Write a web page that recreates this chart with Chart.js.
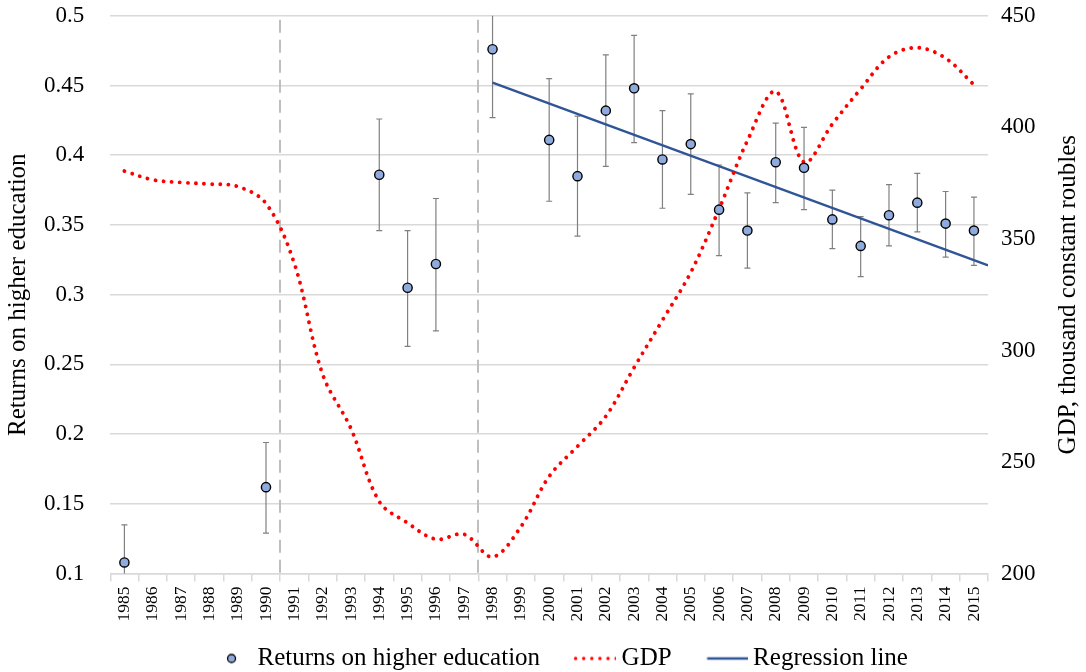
<!DOCTYPE html>
<html><head><meta charset="utf-8">
<script src="https://cdn.jsdelivr.net/npm/chart.js@4.4.0/dist/chart.umd.min.js"></script>
<style>html,body{margin:0;padding:0;background:#fff}</style>
</head><body>
<canvas id="c" width="1086" height="672"></canvas>
<script>
// ---------- data ----------
const years = [1985,1986,1987,1988,1989,1990,1991,1992,1993,1994,1995,1996,1997,1998,1999,2000,
               2001,2002,2003,2004,2005,2006,2007,2008,2009,2010,2011,2012,2013,2014,2015];
const eduYears   = [1985,1990,1994,1995,1996,1998,2000,2001,2002,2003,2004,2005,2006,2007,2008,2009,2010,2011,2012,2013,2014,2015];
const eduReturns = [0.108,0.162,0.386,0.305,0.322,0.476,0.411,0.385,0.432,0.448,0.397,0.408,0.361,0.346,0.395,0.391,0.354,0.335,0.357,0.366,0.351,0.346];
const eduLow     = [0.081,0.129,0.346,0.263,0.274,0.427,0.367,0.342,0.392,0.409,0.362,0.372,0.328,0.319,0.366,0.361,0.333,0.313,0.335,0.345,0.327,0.321];
const eduHigh    = [0.135,0.194,0.426,0.346,0.369,0.525,0.455,0.428,0.472,0.486,0.432,0.444,0.393,0.373,0.423,0.420,0.375,0.356,0.379,0.387,0.374,0.370];
const gdpValues  = [380.4,376.5,375.3,374.6,373.5,365.9,339.0,289.3,265.0,232.3,222.7,215.4,217.6,207.5,221.0,243.6,
                    257.0,270.5,292.4,313.6,335.0,363.4,394.0,416.1,384.4,401.5,417.2,431.6,435.7,431.0,419.1];
const regYears   = [1998, 2015.5];
const regValues  = [0.452, 0.321];
const breakYears = [1990.5, 1997.5];
const leftTicks  = {min:0.1, max:0.5, step:0.05};
const rightTicks = {min:200, max:450, step:50};

// ---------- styling ----------
const FONT = 'Liberation Serif';
Chart.defaults.font.family = FONT;
Chart.defaults.color = '#000';
const GRID = '#d9d9d9';
const CLEAR = 'rgba(0,0,0,0)';

const dsEdu = {
  label:'Returns on higher education',
  data: eduYears.map((x,i)=>({x, y:eduReturns[i]})),
  xAxisID:'xl', yAxisID:'y', showLine:false,
  pointRadius:4.6, pointHoverRadius:4.6,
  pointBackgroundColor:'#8faadc', pointBorderColor:'#000', pointBorderWidth:1.4,
  backgroundColor:'#8faadc', borderColor:'#000'
};
const dsGdp = {
  label:'GDP',
  data: years.map((x,i)=>({x, y:gdpValues[i]})),
  xAxisID:'xl', yAxisID:'y2',
  borderColor:'#ff0000', borderWidth:3.9, borderDash:[0.01,8.1], borderCapStyle:'round',
  pointRadius:0, tension:0.35, fill:false
};
const dsReg = {
  label:'Regression line',
  data: regYears.map((x,i)=>({x, y:regValues[i]})),
  xAxisID:'xl', yAxisID:'y',
  borderColor:'#2f5597', borderWidth:2.4, pointRadius:0, fill:false
};

// legend icons built from the dataset styles
const BOX = 67, FS = 25;
function legendIcon(ds, kind){
  const w = BOX + 14, h = 24;
  const c = document.createElement('canvas'); c.width = w; c.height = h;
  const g = c.getContext('2d');
  const textStart = 7 + BOX + FS/2; // text x in canvas coords
  if (kind === 'point'){
    g.beginPath(); g.arc(textStart-26, h/2, 4, 0, Math.PI*2);
    g.fillStyle = ds.pointBackgroundColor; g.fill();
    g.lineWidth = 1.3; g.strokeStyle = ds.pointBorderColor; g.stroke();
  } else {
    g.beginPath(); g.moveTo(textStart-46, h/2); g.lineTo(textStart-5, h/2);
    g.strokeStyle = ds.borderColor; g.lineWidth = ds.borderWidth;
    if (ds.borderDash){ g.setLineDash(ds.borderDash); g.lineCap = 'round'; g.lineWidth = 3.4; }
    g.stroke();
  }
  return c;
}
const icons = [legendIcon(dsEdu,'point'), legendIcon(dsGdp,'line'), legendIcon(dsReg,'line')];

const extras = {
  id:'extras',
  beforeDatasetsDraw(chart){
    const {ctx, chartArea:a, scales:{xl, y}} = chart;
    ctx.save();
    ctx.beginPath(); ctx.rect(a.left, a.top, a.right-a.left, a.bottom-a.top); ctx.clip();
    // break lines
    ctx.strokeStyle = '#bfbfbf'; ctx.lineWidth = 2; ctx.setLineDash([13,7]);
    breakYears.forEach(b=>{
      const px = Math.round(xl.getPixelForValue(b));
      ctx.beginPath(); ctx.moveTo(px, a.top+4); ctx.lineTo(px, a.bottom); ctx.stroke();
    });
    ctx.setLineDash([]);
    // error bars
    ctx.strokeStyle = '#808080'; ctx.lineWidth = 1.2;
    eduYears.forEach((yr,i)=>{
      const px = xl.getPixelForValue(yr);
      const lo = y.getPixelForValue(eduLow[i]), hi = y.getPixelForValue(eduHigh[i]);
      ctx.beginPath();
      ctx.moveTo(px, lo); ctx.lineTo(px, hi);
      ctx.moveTo(px-3, lo); ctx.lineTo(px+3, lo);
      ctx.moveTo(px-3, hi); ctx.lineTo(px+3, hi);
      ctx.stroke();
    });
    ctx.restore();
  },
  afterDraw(chart){
    // right axis title, reading bottom to top
    const {ctx, chartArea:a} = chart;
    ctx.save();
    ctx.translate(chart.width - 18, (a.top + a.bottom)/2);
    ctx.rotate(-Math.PI/2);
    ctx.font = `25px "${FONT}"`; ctx.fillStyle = '#000';
    ctx.textAlign = 'center'; ctx.textBaseline = 'middle';
    ctx.fillText('GDP, thousand constant roubles', 0, 0);
    ctx.restore();
  }
};

new Chart(document.getElementById('c'), {
  type:'line',
  data:{ labels: years.map(String), datasets:[dsEdu, dsGdp, dsReg] },
  options:{
    responsive:false, animation:false, devicePixelRatio:1,
    layout:{ padding:{left:0, right:0, top:1, bottom:-9} },
    plugins:{
      tooltip:{enabled:false},
      legend:{
        position:'bottom',
        labels:{
          font:{size:FS}, color:'#000', boxWidth:BOX, boxHeight:24, padding:2,
          usePointStyle:true, pointStyleWidth:BOX,
          generateLabels(chart){
            return chart.data.datasets.map((ds,i)=>({
              text: ds.label, datasetIndex:i, hidden:false,
              fillStyle:CLEAR, strokeStyle:CLEAR, lineWidth:0,
              pointStyle: icons[i]
            }));
          }
        }
      }
    },
    scales:{
      x:{ type:'category', position:'bottom', offset:true,
          grid:{display:true, drawOnChartArea:false, drawTicks:true, tickLength:8, color:GRID, lineWidth:1.5, offset:true},
          border:{display:true, color:GRID, width:1.5},
          ticks:{font:{size:17.5}, color:'#000', minRotation:90, maxRotation:90, autoSkip:false, padding:5},
          title:{display:true, text:' ', font:{size:2}, padding:{top:0, bottom:15}} },
      xl:{ type:'linear', display:false, min:years[0]-0.5, max:years[years.length-1]+0.5 },
      y:{ type:'linear', position:'left', min:leftTicks.min, max:leftTicks.max,
          ticks:{stepSize:leftTicks.step, font:{size:23}, color:'#000', padding:2, callback:v=>+v.toFixed(2)},
          grid:{color:GRID, lineWidth:1.5, drawTicks:true, tickLength:24, tickColor:CLEAR}, border:{display:false},
          title:{display:true, text:'Returns on higher education', font:{size:25}, color:'#000', padding:{top:3, bottom:9}} },
      y2:{ type:'linear', position:'right', min:rightTicks.min, max:rightTicks.max,
          ticks:{stepSize:rightTicks.step, font:{size:23}, color:'#000', padding:2},
          grid:{drawOnChartArea:false, drawTicks:true, tickLength:11, tickColor:CLEAR}, border:{display:false},
          title:{display:true, text:' ', font:{size:2}, padding:{top:0, bottom:46}} }
    }
  },
  plugins:[extras]
});
</script>
</body></html>
